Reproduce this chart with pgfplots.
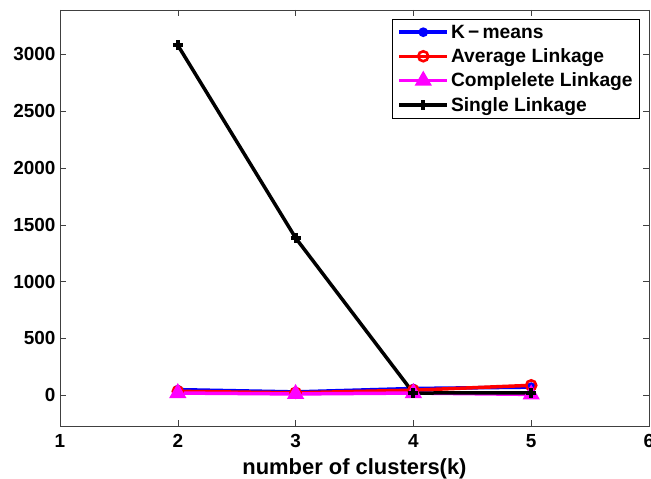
\documentclass[border=0pt]{standalone}
\usepackage{pgfplots}
\pgfplotsset{compat=1.18}
\usepackage{fontspec}
\setmainfont{Liberation Sans}

\definecolor{kblue}{RGB}{0,0,255}
\definecolor{ared}{RGB}{255,0,0}
\definecolor{cmag}{RGB}{255,0,255}

\begin{document}
\begin{tikzpicture}
\begin{axis}[
  at={(0,0)}, anchor=south west,
  scale only axis, width=589bp, height=416bp,
  xmin=1, xmax=6, ymin=-270, ymax=3390,
  xtick={1,2,3,4,5,6}, ytick={0,500,1000,1500,2000,2500,3000},
  tick align=inside, major tick length=6bp,
  tick style={black!75, line width=0.6pt},
  axis line style={line width=0.9pt, black!75},
  /pgf/number format/assume math mode=true,
  /pgf/number format/1000 sep={},
  tick label style={font=\fontsize{19}{22}\selectfont\bfseries},
  xticklabel style={yshift=-5bp},
  yticklabel style={xshift=-1bp},
  xlabel={number of clusters(k)},
  xlabel style={font=\fontsize{22}{26}\selectfont\bfseries, yshift=-4bp},
  legend cell align=left,
  legend style={at={(1,1)}, anchor=north east, xshift=-9bp, yshift=-9bp,
    font=\fontsize{19.3}{21}\selectfont\bfseries, draw=black, line width=0.7pt,
    inner xsep=5bp, inner ysep=3.5bp, row sep=5bp},
  legend image code/.code={%
    \draw[line width=3.5bp, mark repeat=2, mark phase=2]
      plot coordinates {(0bp,0bp) (24bp,0bp) (48bp,0bp)};},
]
% K-means
\addplot[kblue, line width=3.5bp, mark=*, mark size=3bp]
  coordinates {(2,50) (3,30) (4,60) (5,72)};
\addlegendentry{K\,\textminus\,means}
% Average linkage
\addplot[ared, line width=3.5bp, mark=o, mark size=5bp, mark options={line width=2.6bp}]
  coordinates {(2,35) (3,22) (4,45) (5,88)};
\addlegendentry{Average Linkage}
% Complete linkage
\addplot[cmag, line width=3.5bp, mark=triangle*, mark size=6.5bp]
  coordinates {(2,20) (3,12) (4,20) (5,8)};
\addlegendentry{Complelete Linkage}
% Single linkage
\addplot[black, line width=3.5bp, mark=+, mark size=5bp, mark options={line width=4bp}]
  coordinates {(2,3080) (3,1385) (4,20) (5,22)};
\addlegendentry{Single Linkage}
\end{axis}
\pgfresetboundingbox
\path (-60bp,-53bp) rectangle (591bp,426bp);
\end{tikzpicture}
\end{document}
